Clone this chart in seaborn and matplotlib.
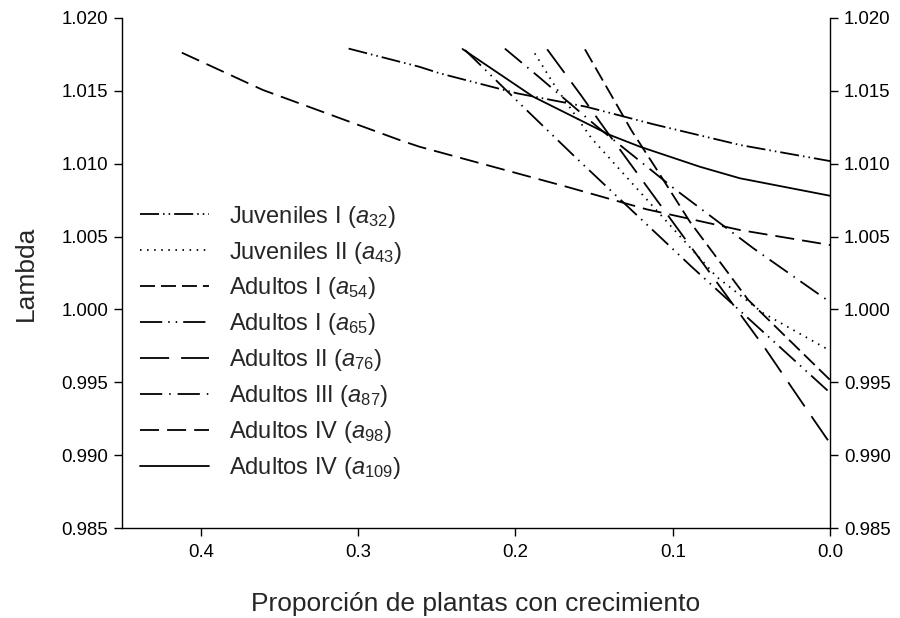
import matplotlib
matplotlib.use("Agg")
import matplotlib.pyplot as plt
import seaborn as sns
import pandas as pd

# ---- data ----
x_a32 = [0.306, 0.261, 0.248, 0.199, 0.155, 0.112, 0.057, 0.0]
y_a32 = [1.0179, 1.01665, 1.0162, 1.01483, 1.01391, 1.0127, 1.01128, 1.01018]

x_a43 = [0.1877, 0.1739, 0.1516, 0.0721, 0.0426, 0.0]
y_a43 = [1.01757, 1.01517, 1.01174, 1.00224, 0.99975, 0.99717]

x_a54 = [0.1558, 0.1261, 0.1113, 0.0891, 0.0520, 0.0]
y_a54 = [1.01785, 1.01226, 1.00979, 1.00602, 1.00065, 0.99516]

x_a65 = [0.232, 0.1951, 0.1622, 0.088, 0.0]
y_a65 = [1.0178, 1.01391, 1.01048, 1.00293, 0.99428]

x_a76 = [0.1798, 0.1584, 0.1426, 0.1102, 0.0413, 0.0153, 0.0]
y_a76 = [1.01785, 1.01471, 1.01231, 1.00751, 0.99733, 0.99321, 0.99081]

x_a87 = [0.2067, 0.1845, 0.1476, 0.098, 0.0488, 0.0]
y_a87 = [1.0179, 1.0159, 1.0125, 1.0082, 1.0042, 1.0005]

x_a98 = [0.412, 0.3605, 0.2735, 0.2608, 0.1675, 0.1166, 0.0573, 0.0]
y_a98 = [1.01762, 1.01506, 1.01162, 1.01116, 1.00842, 1.00687, 1.00545, 1.00442]

x_a109 = [0.2336, 0.1887, 0.1399, 0.1209, 0.0827, 0.0573, 0.0]
y_a109 = [1.01787, 1.0146, 1.01197, 1.01117, 1.00979, 1.009, 1.0078]

labels = [
    r"Juveniles I ($\mathit{a}_{\mathit{32}}$)",
    r"Juveniles II ($\mathit{a}_{\mathit{43}}$)",
    r"Adultos I ($\mathit{a}_{\mathit{54}}$)",
    r"Adultos I ($\mathit{a}_{\mathit{65}}$)",
    r"Adultos II ($\mathit{a}_{\mathit{76}}$)",
    r"Adultos III ($\mathit{a}_{\mathit{87}}$)",
    r"Adultos IV ($\mathit{a}_{\mathit{98}}$)",
    r"Adultos IV ($\mathit{a}_{\mathit{109}}$)",
]
xs = [x_a32, x_a43, x_a54, x_a65, x_a76, x_a87, x_a98, x_a109]
ys = [y_a32, y_a43, y_a54, y_a65, y_a76, y_a87, y_a98, y_a109]

x_ticks = [0.4, 0.3, 0.2, 0.1, 0.0]
y_ticks = [0.985, 0.990, 0.995, 1.000, 1.005, 1.010, 1.015, 1.020]

# ---- styling ----
sns.set_theme(style="ticks")
plt.rcParams["font.family"] = ["Liberation Sans", "DejaVu Sans"]
plt.rcParams["mathtext.fontset"] = "custom"
plt.rcParams["mathtext.rm"] = "Liberation Sans"
plt.rcParams["mathtext.it"] = "Liberation Sans:italic"
plt.rcParams["lines.scale_dashes"] = False

styles = [
    (0, (13.7, 2.9, 1.1, 2.9, 1.1, 2.9)),   # a32 dash-dot-dot
    (0, (1.1, 4.0)),                        # a43 dotted
    (0, (10.8, 4.3)),                       # a54 dashes
    (0, (16.0, 4.3, 1.1, 4.3, 1.1, 4.3)),   # a65 dash-dot-dot
    (0, (21.0, 8.6)),                       # a76 long dashes
    (0, (16.0, 5.0, 1.1, 5.0)),             # a87 dash-dot
    (0, (13.7, 5.8)),                       # a98 dashes
    "-",                                    # a109 solid
]

fig = plt.figure(figsize=(9, 6.18), dpi=100)
ax = fig.add_axes([0.1356, 0.1456, 0.7867, 0.8253])

for x, y, lab, ls in zip(xs, ys, labels, styles):
    df = pd.DataFrame({"x": x, "y": y})
    sns.lineplot(data=df, x="x", y="y", ax=ax, color="black", linewidth=1.3,
                 linestyle=ls, label=lab, estimator=None, sort=False,
                 dash_capstyle="butt")

ax.set_xlim(0.45, 0.0)
ax.set_ylim(0.985, 1.020)
ax.set_xticks(x_ticks)
ax.set_xticklabels([f"{v:.1f}" for v in x_ticks])
ax.set_yticks(y_ticks)
ax.set_yticklabels([f"{v:.3f}" for v in y_ticks])

ax.spines["top"].set_visible(False)
for s in ["left", "right", "bottom"]:
    ax.spines[s].set_visible(True)
    ax.spines[s].set_linewidth(1.0)
    ax.spines[s].set_color("black")

ax.tick_params(axis="both", direction="out", length=6, width=1.0,
               labelsize=13.4, colors="black", pad=4)
ax.tick_params(axis="y", right=True, labelright=True)
ax.tick_params(axis="x", pad=5.5)

ax.set_xlabel("Proporción de plantas con crecimiento", fontsize=19, labelpad=22)
ax.set_ylabel("Lambda", fontsize=19, labelpad=17)

leg = ax.legend(loc="center left", bbox_to_anchor=(0.025, 0.364), frameon=False,
                fontsize=17, handlelength=2.95, handletextpad=0.85,
                labelspacing=0.42, borderpad=0, borderaxespad=0)

fig.savefig("out.png", dpi=100)
